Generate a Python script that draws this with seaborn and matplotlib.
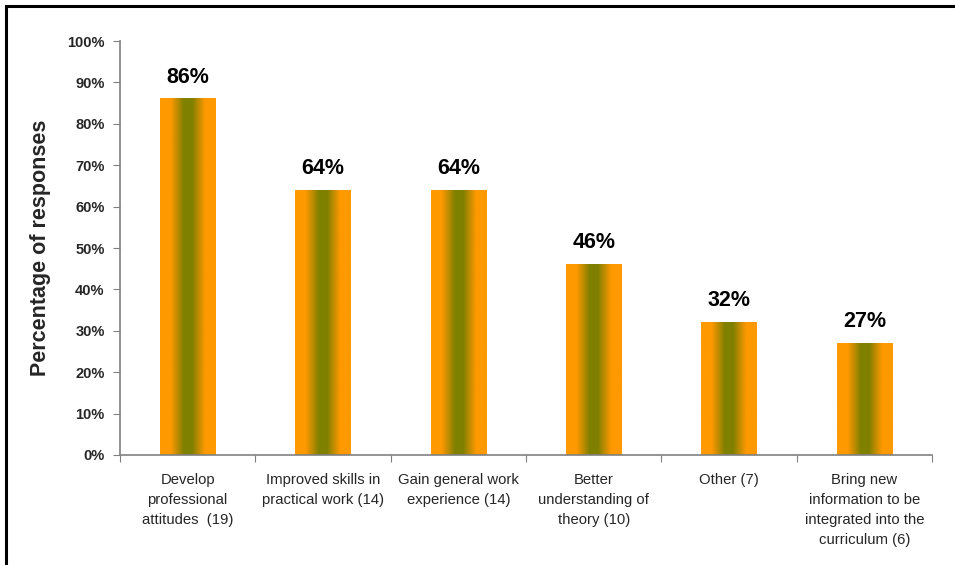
import numpy as np
import pandas as pd
import matplotlib
matplotlib.use("Agg")
import matplotlib.pyplot as plt
from matplotlib.colors import to_rgb
from matplotlib.patches import Rectangle
import seaborn as sns

categories = [
    "Develop\nprofessional\nattitudes  (19)",
    "Improved skills in\npractical work (14)",
    "Gain general work\nexperience (14)",
    "Better\nunderstanding of\ntheory (10)",
    "Other (7)",
    "Bring new\ninformation to be\nintegrated into the\ncurriculum (6)",
]
percentages = [86, 64, 64, 46, 32, 27]
value_labels = ["86%", "64%", "64%", "46%", "32%", "27%"]
y_ticks = [0, 10, 20, 30, 40, 50, 60, 70, 80, 90, 100]

sns.set_style("white")
plt.rcParams["font.family"] = ["Liberation Sans", "DejaVu Sans"]

df = pd.DataFrame({"category": categories, "pct": percentages})

fig = plt.figure(figsize=(9.55, 5.65), dpi=100)
ax = fig.add_axes([120 / 955, 1 - 455 / 565, (932 - 120) / 955, (455 - 41) / 565])

sns.barplot(data=df, x="category", y="pct", ax=ax, width=0.41,
            color="#FF9900", edgecolor="none", saturation=1)

# horizontal orange -> olive -> orange fill for every bar
orange = np.array(to_rgb("#FF9900"))
olive = np.array(to_rgb("#808000"))
t = np.linspace(0, 1, 200)
d = np.abs(t - 0.5) * 2
w = np.clip((d - 0.15) / 0.47, 0, 1)
grad = (olive[None, :] * (1 - w[:, None]) + orange[None, :] * w[:, None])[None, :, :]

for patch in ax.patches:
    x0, y0 = patch.get_x(), patch.get_y()
    bw, bh = patch.get_width(), patch.get_height()
    patch.set_facecolor("none")
    ax.imshow(grad, extent=[x0, x0 + bw, y0, y0 + bh], aspect="auto",
              interpolation="bilinear", zorder=2)

for i, (v, lab) in enumerate(zip(percentages, value_labels)):
    ax.annotate(lab, (i, v), xytext=(0, 8), textcoords="offset points",
                ha="center", va="bottom", fontsize=15.5, fontweight="bold",
                color="black")

ax.set_xlim(-0.5, len(categories) - 0.5)
ax.set_ylim(0, 100)
ax.set_yticks(y_ticks)
ax.set_yticklabels([f"{v}%" for v in y_ticks], fontsize=10.5, fontweight="bold")

# category ticks sit on the boundaries between bars
ax.set_xticks(np.arange(-0.5, len(categories) + 0.5, 1.0))
ax.set_xticklabels([])
ax.tick_params(axis="x", length=5, color="#808080", direction="out", bottom=True)
ax.tick_params(axis="y", length=5, color="#808080", direction="out", left=True, pad=6)
for i, c in enumerate(categories):
    ax.annotate(c, (i, 0), xytext=(0, -13), textcoords="offset points",
                ha="center", va="top", fontsize=10.7, linespacing=1.55,
                annotation_clip=False)

ax.set_xlabel("")
ax.set_ylabel("Percentage of responses", fontsize=15.5, fontweight="bold", labelpad=12)

for side in ["top", "right"]:
    ax.spines[side].set_visible(False)
for side in ["left", "bottom"]:
    ax.spines[side].set_color("#808080")
    ax.spines[side].set_linewidth(1.2)

# outer frame around the chart area
fig.patches.append(Rectangle((6 / 955, -0.05), 1.2, 1 - 6 / 565 + 0.05,
                             transform=fig.transFigure, fill=False,
                             edgecolor="black", linewidth=2.2))

fig.savefig("out.png", dpi=100)
